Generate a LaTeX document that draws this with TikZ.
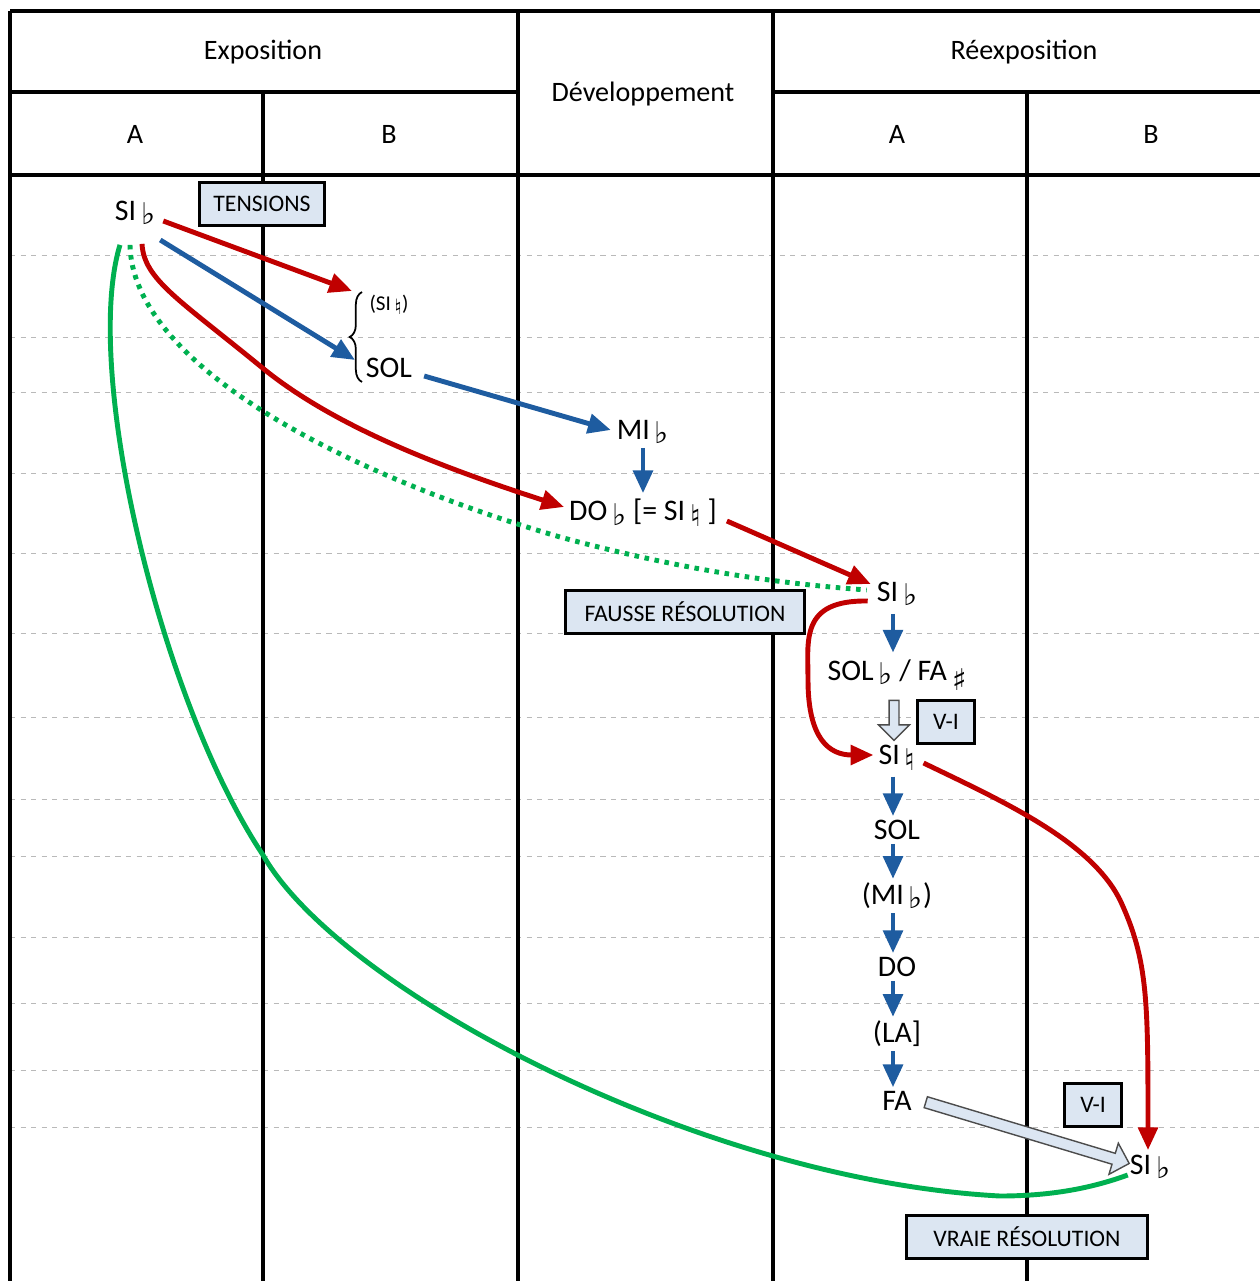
\documentclass[tikz,border=0pt]{standalone}
\usepackage{fontspec}
\setmainfont{Carlito}
\newfontfamily\symfont{DejaVu Sans}
\usetikzlibrary{arrows.meta,calc,decorations.pathreplacing,shapes.arrows,positioning}
\definecolor{rouge}{RGB}{192,0,0}
\definecolor{bleu}{RGB}{30,92,160}
\definecolor{vert}{RGB}{0,176,80}
\definecolor{boitebleu}{RGB}{220,230,242}
\newcommand{\bemol}{\,{\symfont\raisebox{-0.25ex}{♭}}}
\newcommand{\becarre}{\,{\symfont\raisebox{-0.35ex}{♮}}}
\newcommand{\diese}{\,{\symfont\raisebox{-0.6ex}{♯}}}

\begin{document}
\begin{tikzpicture}[x=0.02cm,y=-0.02cm,
  cadre/.style={line width=1.9pt},
  grille/.style={draw=gray!55,dashed,line width=0.5pt},
  titre/.style={font=\fontsize{16}{19}\selectfont},
  note/.style={font=\fontsize{17}{20}\selectfont,inner sep=1pt},
  boite/.style={draw,line width=1.3pt,fill=boitebleu,inner sep=2pt,
    minimum height=0.86cm,font=\fontsize{13.5}{16}\selectfont},
  pointe/.style={-{Triangle[length=13pt,width=11pt]}},
  rougef/.style={pointe,draw=rouge,line width=2.8pt},
  bleuf/.style={pointe,draw=bleu,line width=2.8pt},
  vertf/.style={draw=vert,line width=2.8pt},
  creuse/.style={single arrow,draw=black!70,fill=boitebleu,line width=0.8pt,
    inner sep=0pt,single arrow head extend=6pt,sloped,allow upside down}]
\useasboundingbox (0,0) rectangle (1260,1281);

% grille pointillee
\foreach \y in {255,337,392,473,553,633,717,799,856,937,1003,1070,1127}
  \draw[grille] (10,\y) -- (1260,\y);

% tableau
\draw[cadre,line width=2.4pt] (10,11) -- (1260,11);
\draw[cadre] (10,92) -- (518,92) (773,92) -- (1260,92);
\draw[cadre] (10,175) -- (1260,175);
\foreach \x in {10,518,773}
  \draw[cadre] (\x,11) -- (\x,1281);
\foreach \x in {263,1027}
  \draw[cadre] (\x,92) -- (\x,1281);

\node[titre] (expo) at (263,52) {Exposition};
\node[titre] (dev) at (643,94) {Développement};
\node[titre] (reexpo) at (1024,52) {Réexposition};
\node[titre] (expoA) at (135,134) {A};
\node[titre] (expoB) at (389,134) {B};
\node[titre] (reexpoA) at (897,134) {A};
\node[titre] (reexpoB) at (1151,134) {B};

% notes
\node[note] (sib) at (135,213) {SI\bemol};
\node[boite,minimum width=2.5cm] (tensions) at (262,204) {TENSIONS};
\node[note,font=\fontsize{12}{14}\selectfont] (sibec) at (389,305) {(SI\becarre)};
\node[note] (sol) at (389,368) {SOL};
\draw[line width=1pt,decorate,decoration={brace,amplitude=7pt}]
  (362,382) -- (362,292);
\coordinate (accH) at (352,291);
\coordinate (accB) at (355,360);
\node[note] (mib) at (643,432) {MI\bemol};
\node[note] (dob) at (643,513) {DO\bemol\ [= SI\becarre\ ]};
\node[note] (sib2) at (897,594) {SI\bemol};
\node[boite,minimum width=4.78cm] (fausse) at (685,612) {FAUSSE RÉSOLUTION};
\node[note] (solfa) at (897,675) {SOL\bemol\ / FA\diese};
\node[boite,minimum width=1.14cm] (vi) at (946,722) {V-I};
\node[note] (sibec2) at (897,758) {SI\becarre};
\node[note] (sol2) at (897,830) {SOL};
\node[note] (mib2) at (897,896) {(MI\bemol)};
\node[note] (do) at (897,967) {DO};
\node[note] (la) at (897,1034) {(LA]};
\node[note] (fa) at (897,1101) {FA};
\node[boite,minimum width=1.14cm] (vi2) at (1093,1105) {V-I};
\node[note] (sibf) at (1150,1167) {SI\bemol};
\node[boite,minimum width=4.82cm] (vraie) at (1027,1237) {VRAIE RÉSOLUTION};

% fleches
\draw[rougef] ($(sib.east)+(6,8)$) -- (accH);
\draw[bleuf] ($(sib.east)+(3,27)$) -- (accB);
\draw[bleuf] ($(sol.east)+(10,8)$) -- ($(mib.west)+(-4,-2)$);
\draw[bleuf] (mib.south) ++(0,2) -- ($(dob.north)+(0,-4)$);
\draw[rougef] ($(sib.south)+(7,17)$) .. controls (144,280) and (180,300) .. (265,370)
  .. controls (340,430) and (450,470) .. ($(dob.west)+(-3,-6)$);
\draw[vertf,dash pattern=on 2.6pt off 3.2pt] ($(sib.south)+(-5,18)$)
  .. controls (132,360) and (330,470) .. (560,537)
  .. controls (700,575) and (800,585) .. ($(sib2.west)+(-8,-4)$);
\draw[vertf] ($(sib.south)+(-15,18)$) .. controls (82,370) and (160,700) .. (263,855)
  .. controls (340,990) and (700,1180) .. (1000,1196)
  .. controls (1060,1196) and (1100,1185) .. ($(sibf.west)+(0,8)$);
\draw[rougef] ($(dob.east)+(8,8)$) -- ($(sib2.west)+(-4,-10)$);
\draw[rougef] ($(sib2.west)+(-7,7)$) .. controls (800,600) and (808,640) .. (808,680)
  .. controls (808,740) and (830,755) .. ($(sibec2.west)+(-3,-3)$);
\draw[bleuf] ($(sib2.south)+(-4,6)$) -- ($(solfa.north)+(-4,-5)$);
\path ($(solfa.south)+(-3,0)$) -- node[creuse,minimum height=0.8cm,minimum width=0.44cm,
  text height=0.17cm] {} ($(sibec2.north)+(-3,0)$);
\draw[rougef] ($(sibec2.east)+(6,5)$) .. controls (1000,800) and (1090,840) .. (1120,900)
  .. controls (1148,960) and (1148,1000) .. ($(sibf.north)+(-2,-3)$);
\draw[bleuf] ($(sibec2.south)+(-4,4)$) -- ($(sol2.north)+(-4,-2)$);
\draw[bleuf] ($(sol2.south)+(-4,2)$) -- ($(mib2.north)+(-4,-2)$);
\draw[bleuf] ($(mib2.south)+(-4,2)$) -- ($(do.north)+(-4,-2)$);
\draw[bleuf] ($(do.south)+(-4,2)$) -- ($(la.north)+(-4,-2)$);
\draw[bleuf] ($(la.south)+(-4,2)$) -- ($(fa.north)+(-4,-2)$);
\path ($(fa.east)+(8,0)$) -- node[creuse,minimum height=4.25cm,minimum width=0.48cm,
  text height=0.2cm] {} ($(sibf.west)+(0,-4)$);
\end{tikzpicture}
\end{document}
